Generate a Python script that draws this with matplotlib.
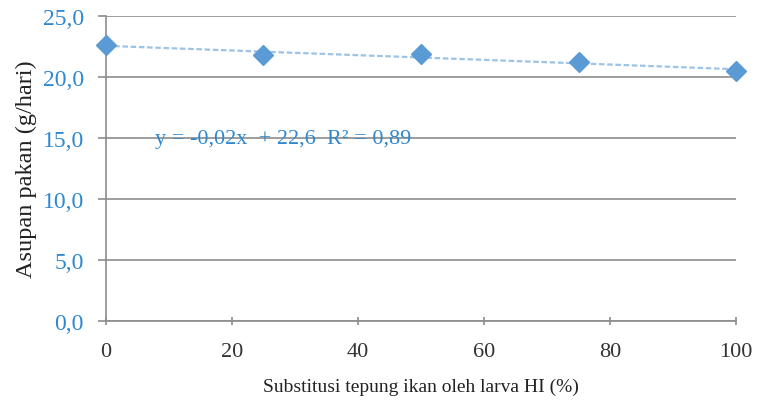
import numpy as np
import matplotlib.pyplot as plt
from matplotlib.ticker import FuncFormatter, MultipleLocator

# Data: substitusi tepung ikan (%) dan asupan pakan (g/hari)
substitusi = [0, 25, 50, 75, 100]
asupan = [22.6, 21.8, 21.9, 21.2, 20.5]

biru = '#5B9BD5'
biru_teks = '#2F88CF'
abu = '#8C8C8C'

plt.rcParams['font.family'] = ['Liberation Serif', 'DejaVu Serif']

fig = plt.figure(figsize=(7.58, 4.06), dpi=100)
ax = fig.add_axes([0.1398, 0.207, 0.8312, 0.751])

# Garis tren linier
koef = np.polyfit(substitusi, asupan, 1)
xt = np.array([0, 100])
ax.plot(xt, np.polyval(koef, xt), linestyle=(0, (2.5, 1.2)), color='#9DC3E6', lw=1.6, zorder=3)

ax.plot(substitusi, asupan, linestyle='none', marker='D', markersize=10,
        color=biru, markeredgecolor=biru, zorder=4, clip_on=False)

ax.text(7.8, 15.0, 'y = -0,02x  + 22,6  R² = 0,89', color=biru_teks, fontsize=16,
        va='center', ha='left')

ax.set_xlim(0, 100)
ax.set_ylim(0, 25)
ax.xaxis.set_major_locator(MultipleLocator(20))
ax.yaxis.set_major_locator(MultipleLocator(5))
ax.yaxis.set_major_formatter(FuncFormatter(lambda v, p: f'{v:.1f}'.replace('.', ',')))

ax.grid(axis='y', color=abu, lw=1.2)
ax.set_axisbelow(True)
for s in ['top', 'right']:
    ax.spines[s].set_visible(False)
for s in ['left', 'bottom']:
    ax.spines[s].set_color(abu)
    ax.spines[s].set_linewidth(1.2)

ax.tick_params(axis='y', colors=abu, labelcolor=biru_teks, labelsize=17, length=6,
               direction='out', width=1.2, pad=10)
ax.tick_params(axis='x', colors=abu, labelcolor='#333333', labelsize=16, length=6,
               direction='inout', width=1.2, pad=12)

ax.set_xlabel('Substitusi tepung ikan oleh larva HI (%)', fontsize=14, color='#222222', labelpad=12)
ax.set_ylabel('Asupan pakan (g/hari)', fontsize=17.5, color='#222222', labelpad=4)

fig.savefig('out.png', dpi=100)
